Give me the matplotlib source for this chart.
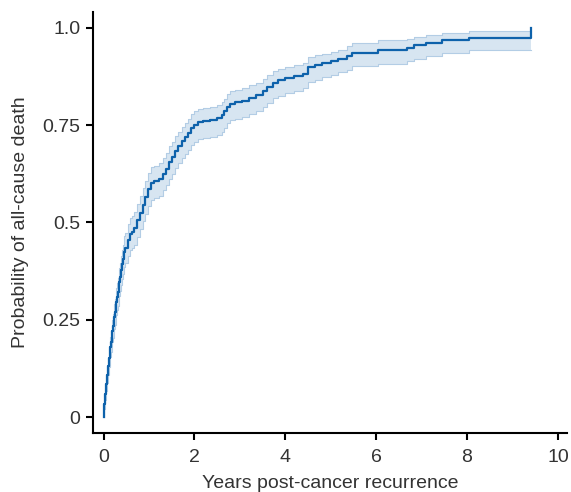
import numpy as np
import matplotlib
matplotlib.use("Agg")
import matplotlib.pyplot as plt

plt.rcParams["font.family"] = ["Liberation Sans", "DejaVu Sans"]

# Cumulative incidence of all-cause death
years = [0, 0.01, 0.02, 0.03, 0.04, 0.05, 0.06, 0.07, 0.08, 0.09, 0.10, 0.11,
         0.12, 0.135, 0.15, 0.165, 0.18, 0.195, 0.21, 0.225, 0.24, 0.255, 0.27,
         0.285, 0.30, 0.315, 0.33, 0.345, 0.36, 0.38, 0.40, 0.42, 0.44, 0.46, 0.48,
         0.53, 0.58, 0.63, 0.68, 0.74, 0.80,
         0.86, 0.92, 0.98, 1.04, 1.12, 1.22, 1.30, 1.37, 1.44, 1.51, 1.58, 1.65,
         1.72, 1.79, 1.86, 1.93, 2.00, 2.08, 2.20, 2.35, 2.50, 2.60, 2.66, 2.72,
         2.78, 2.90, 3.05, 3.20, 3.35, 3.50, 3.60, 3.72, 3.85, 4.00, 4.20, 4.40,
         4.50, 4.65, 4.80, 5.00, 5.15, 5.35, 5.46, 6.04, 6.68, 6.84, 7.10, 7.46,
         8.05, 9.40]
estimate = [0, 0.018, 0.033, 0.047, 0.060, 0.073, 0.085, 0.097, 0.108, 0.119, 0.130, 0.141,
            0.152, 0.166, 0.180, 0.194, 0.208, 0.221, 0.234, 0.246, 0.258, 0.270, 0.283,
            0.296, 0.309, 0.322, 0.335, 0.348, 0.360, 0.377, 0.392, 0.405, 0.415, 0.425, 0.435,
            0.455, 0.47, 0.476, 0.485, 0.505, 0.525,
            0.545, 0.565, 0.585, 0.60, 0.605, 0.612, 0.625, 0.638, 0.655, 0.668, 0.682, 0.695,
            0.708, 0.718, 0.73, 0.742, 0.75, 0.757, 0.76, 0.763, 0.768, 0.775, 0.785, 0.797,
            0.805, 0.808, 0.812, 0.82, 0.828, 0.838, 0.848, 0.859, 0.865, 0.871, 0.876, 0.882,
            0.898, 0.903, 0.908, 0.914, 0.92, 0.926, 0.936, 0.943, 0.948, 0.956, 0.961, 0.967,
            0.974, 1.0]
lower = [0, 0.010, 0.021, 0.033, 0.044, 0.056, 0.067, 0.078, 0.088, 0.098, 0.108, 0.118,
         0.128, 0.141, 0.154, 0.167, 0.180, 0.192, 0.204, 0.215, 0.226, 0.237, 0.249,
         0.261, 0.274, 0.286, 0.299, 0.312, 0.323, 0.340, 0.354, 0.367, 0.376, 0.386, 0.396,
         0.414, 0.429, 0.435, 0.443, 0.463, 0.483,
         0.503, 0.522, 0.542, 0.557, 0.562, 0.569, 0.582, 0.595, 0.612, 0.625, 0.639, 0.652,
         0.665, 0.675, 0.687, 0.699, 0.707, 0.714, 0.717, 0.72, 0.725, 0.732, 0.742, 0.754,
         0.762, 0.766, 0.770, 0.778, 0.787, 0.797, 0.807, 0.819, 0.825, 0.832, 0.837, 0.844,
         0.861, 0.866, 0.872, 0.879, 0.886, 0.891, 0.902, 0.907, 0.914, 0.920, 0.926, 0.935,
         0.943, 0.943]
upper = [0, 0.026, 0.045, 0.061, 0.076, 0.090, 0.103, 0.116, 0.128, 0.140, 0.152, 0.164,
         0.176, 0.191, 0.206, 0.221, 0.236, 0.250, 0.264, 0.277, 0.290, 0.303, 0.317,
         0.331, 0.344, 0.358, 0.371, 0.384, 0.397, 0.414, 0.430, 0.443, 0.454, 0.464, 0.474,
         0.496, 0.511, 0.517, 0.527, 0.547, 0.567,
         0.587, 0.607, 0.627, 0.641, 0.646, 0.653, 0.666, 0.678, 0.695, 0.707, 0.721, 0.733,
         0.745, 0.755, 0.766, 0.777, 0.785, 0.791, 0.794, 0.797, 0.801, 0.808, 0.818, 0.829,
         0.837, 0.840, 0.844, 0.852, 0.859, 0.869, 0.879, 0.889, 0.895, 0.900, 0.905, 0.910,
         0.924, 0.929, 0.933, 0.938, 0.943, 0.952, 0.961, 0.967, 0.971, 0.977, 0.982, 0.987,
         0.992, 0.992]

x_ticks = [0, 2, 4, 6, 8, 10]
y_ticks = [0, 0.25, 0.5, 0.75, 1.0]
y_labels = ["0", "0.25", "0.5", "0.75", "1.0"]

line_col = "#0e62ab"
band_col = "#d7e5f1"
edge_col = "#b3cde5"
text_col = "#333333"

fig = plt.figure(figsize=(5.71, 4.92), dpi=100)
ax = fig.add_axes([0.163, 0.1205, 0.830, 0.855])

ax.fill_between(years, lower, upper, step="post", color=band_col, lw=0)
ax.step(years, lower, where="post", color=edge_col, lw=0.8)
ax.step(years, upper, where="post", color=edge_col, lw=0.8)
ax.step(years, estimate, where="post", color=line_col, lw=1.6)

ax.set_xlim(-0.23, 10.2)
ax.set_ylim(-0.04, 1.04)
ax.set_xticks(x_ticks)
ax.set_yticks(y_ticks)
ax.set_yticklabels(y_labels)

for side in ["top", "right"]:
    ax.spines[side].set_visible(False)
for side in ["left", "bottom"]:
    ax.spines[side].set_linewidth(1.5)
    ax.spines[side].set_color("black")

ax.tick_params(axis="both", length=5, width=1.5, color="black",
               labelsize=14, labelcolor=text_col, pad=4)
ax.tick_params(axis="x", pad=7)

ax.set_xlabel("Years post-cancer recurrence", fontsize=14, color=text_col, labelpad=6)
ax.set_ylabel("Probability of all-cause death", fontsize=14, color=text_col, labelpad=10)

fig.savefig("out.png", dpi=100)
